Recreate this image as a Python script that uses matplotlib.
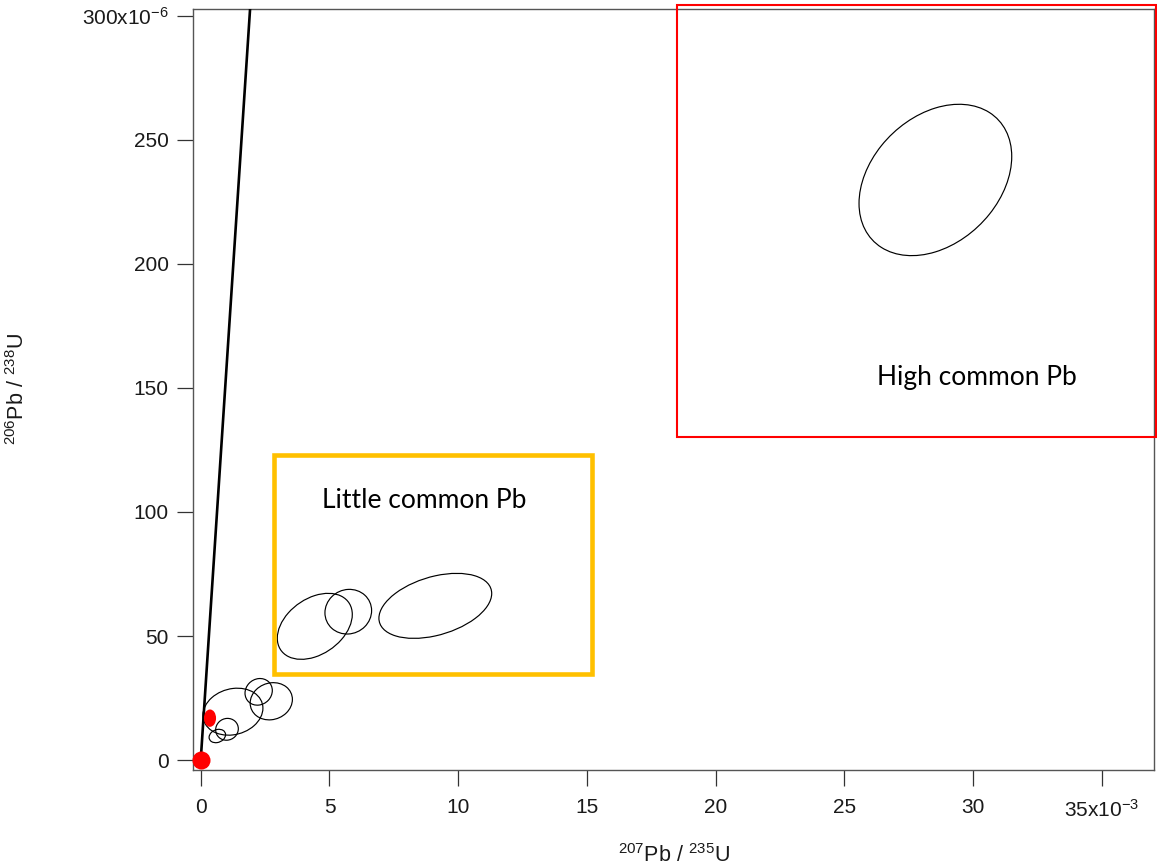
import numpy as np
import matplotlib
matplotlib.use("Agg")
import matplotlib.pyplot as plt
from matplotlib.patches import Ellipse, Rectangle
from matplotlib.transforms import Affine2D

# ---------------- data ----------------
# concordia (207Pb/235U x1e-3, 206Pb/238U x1e-6)
concordia_x = [0.0, 1.95]
concordia_y = [0.0, 308.0]

# error ellipses: centre, 1-sigma half widths, correlation
ell_cx = [1.25, 2.25, 2.74, 1.02, 0.645, 4.43, 5.73, 9.11, 28.53]
ell_cy = [19.5, 27.5, 23.7, 12.4, 9.7, 53.9, 59.8, 62.15, 233.8]
ell_sx = [1.165, 0.53, 0.82, 0.44, 0.32, 1.456, 0.906, 2.19, 2.965]
ell_sy = [9.47, 5.37, 7.5, 4.4, 2.7, 13.3, 9.0, 13.1, 30.5]
ell_rho = [0.15, 0.1, 0.1, 0.05, 0.2, 0.36, 0.05, 0.38, 0.31]

# red points
red_x = [0.0]
red_y = [0.0]
red_ell_x = 0.36
red_ell_y = 16.9
red_ell_w = 0.47
red_ell_h = 7.0

# annotation boxes
box_little_x = [2.85, 15.18]
box_little_y = [34.7, 122.9]
box_high_x = [18.49, 37.09]
box_high_y = [130.3, 304.4]
label_little = "Little common Pb"
label_high = "High common Pb"
label_little_pos = (4.70, 101.6)
label_high_pos = (26.25, 151.1)

xticks = [0, 5, 10, 15, 20, 25, 30, 35]
xticklabels = ["0", "5", "10", "15", "20", "25", "30", "35x10$^{\\mathregular{-3}}$"]
yticks = [0, 50, 100, 150, 200, 250, 300]
yticklabels = ["0", "50", "100", "150", "200", "250", "300x10$^{\\mathregular{-6}}$"]

# ---------------- style ----------------
plt.rcParams['font.family'] = ['Liberation Sans', 'DejaVu Sans']
plt.rcParams['mathtext.fontset'] = 'custom'
plt.rcParams['mathtext.rm'] = 'Liberation Sans'
plt.rcParams['mathtext.it'] = 'Liberation Sans:italic'
plt.rcParams['mathtext.bf'] = 'Liberation Sans:bold'

fig = plt.figure(figsize=(11.57, 8.68), dpi=100)
ax = fig.add_axes([193/1157, 1-770/868, (1154-193)/1157, (770-9)/868])

spine_col = '#555555'
for s in ax.spines.values():
    s.set_color(spine_col)
    s.set_linewidth(1.0)

ax.set_xlim(-0.3, 37.02)
ax.set_ylim(-4.0, 302.7)

ax.set_xticks(xticks)
ax.set_xticklabels(xticklabels)
ax.set_yticks(yticks)
ax.set_yticklabels(yticklabels)
ax.tick_params(direction='out', length=11.5, width=0.9, color='#333333',
               labelsize=15, labelcolor='#1a1a1a')
ax.tick_params(axis='x', pad=9)
ax.tick_params(axis='y', pad=6)

ax.set_xlabel("$^{\\mathregular{207}}$Pb / $^{\\mathregular{235}}$U", fontsize=15.5, color='#1a1a1a')
ax.xaxis.set_label_coords(0.5, (770-844)/761)
ax.xaxis.label.set_va('top')

fig.text(18/1157, 1-389.5/868, "$^{\\mathregular{206}}$Pb / $^{\\mathregular{238}}$U",
         fontsize=15.5, color='#1a1a1a', rotation=90, ha='center', va='center')

# concordia
ax.plot(concordia_x, concordia_y, color='black', lw=1.9, zorder=3)

# ellipses
for cx, cy, sx, sy, r in zip(ell_cx, ell_cy, ell_sx, ell_sy, ell_rho):
    m = np.array([[sx, 0.0, cx], [sy*r, sy*np.sqrt(1-r*r), cy], [0, 0, 1]])
    e = Ellipse((0, 0), 2, 2, fill=False, edgecolor='black', lw=0.85,
                transform=Affine2D(m) + ax.transData, zorder=2)
    ax.add_patch(e)

# red points
ax.plot(red_x, red_y, 'o', ms=13, color='#FF0000', mec='none', zorder=5, clip_on=False)
ax.add_patch(Ellipse((red_ell_x, red_ell_y), red_ell_w, red_ell_h, color='#FF0000', zorder=5, lw=0))

# boxes
ax.add_patch(Rectangle((box_little_x[0], box_little_y[0]),
                       box_little_x[1]-box_little_x[0], box_little_y[1]-box_little_y[0],
                       fill=False, edgecolor='#FFC000', lw=3.3, clip_on=False, zorder=4,
                       joinstyle='miter'))
ax.add_patch(Rectangle((box_high_x[0], box_high_y[0]),
                       box_high_x[1]-box_high_x[0], box_high_y[1]-box_high_y[0],
                       fill=False, edgecolor='#FF0000', lw=1.5, clip_on=False, zorder=4,
                       joinstyle='miter'))

ax.text(label_little_pos[0], label_little_pos[1], label_little, fontsize=19,
        family=['Lato', 'DejaVu Sans'], ha='left', va='baseline', color='black')
ax.text(label_high_pos[0], label_high_pos[1], label_high, fontsize=19,
        family=['Lato', 'DejaVu Sans'], ha='left', va='baseline', color='black')

fig.savefig('out.png', dpi=100)
